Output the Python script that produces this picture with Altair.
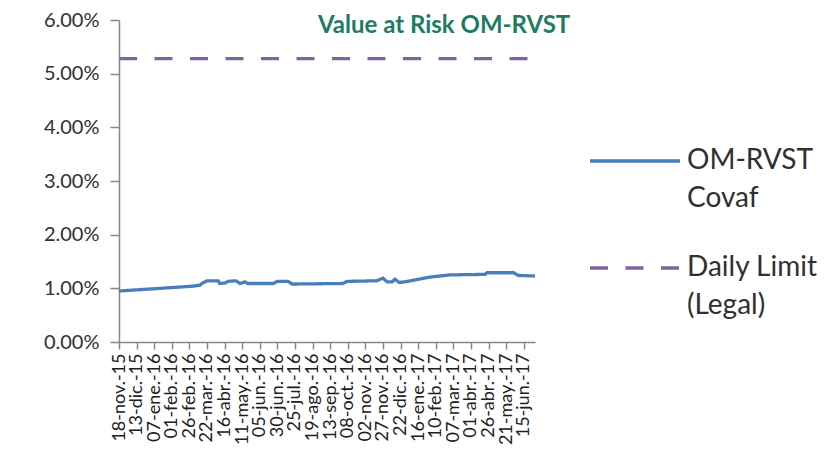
import altair as alt
import pandas as pd

# ---- data ----
var_dates = [
    "2015-11-18", "2016-03-02", "2016-03-12", "2016-03-16", "2016-03-22",
    "2016-04-07", "2016-04-09", "2016-04-17", "2016-04-21", "2016-05-02",
    "2016-05-08", "2016-05-15", "2016-05-19", "2016-06-24", "2016-06-30",
    "2016-07-15", "2016-07-21", "2016-10-01", "2016-10-07", "2016-11-18",
    "2016-11-27", "2016-12-03", "2016-12-10", "2016-12-14", "2016-12-20",
    "2016-12-28", "2017-02-02", "2017-03-02", "2017-04-21", "2017-04-24",
    "2017-06-01", "2017-06-07", "2017-07-01",
]
var_values = [
    0.95, 1.04, 1.06, 1.10, 1.14,
    1.14, 1.09, 1.10, 1.13, 1.14,
    1.09, 1.12, 1.09, 1.09, 1.13,
    1.13, 1.08, 1.09, 1.13, 1.14,
    1.19, 1.12, 1.12, 1.17, 1.11,
    1.12, 1.21, 1.25, 1.26, 1.29,
    1.29, 1.24, 1.23,
]
limit_dates = ["2015-11-18", "2017-07-01"]
limit_values = [5.28, 5.28]

series_names = ["OM-RVST\nCovaf", "Daily Limit\n(Legal)"]
series_colors = ["#4a7ebb", "#8064a2"]
series_dashes = [[1, 0], [18, 17.5]]

tick_dates = [
    "2015-11-18", "2015-12-13", "2016-01-07", "2016-02-01", "2016-02-26",
    "2016-03-22", "2016-04-16", "2016-05-11", "2016-06-05", "2016-06-30",
    "2016-07-25", "2016-08-19", "2016-09-13", "2016-10-08", "2016-11-02",
    "2016-11-27", "2016-12-22", "2017-01-16", "2017-02-10", "2017-03-07",
    "2017-04-01", "2017-04-26", "2017-05-21", "2017-06-15",
]
month_abbr = ["ene", "feb", "mar", "abr", "may", "jun",
              "jul", "ago", "sep", "oct", "nov", "dic"]
y_ticks = [0, 1, 2, 3, 4, 5, 6]
title_text = "Value at Risk OM-RVST"
x_domain = ["2015-11-18", "2017-07-01"]

# ---- build table ----
df = pd.DataFrame({
    "date": var_dates + limit_dates,
    "value": [v / 100 for v in var_values + limit_values],
    "series": [series_names[0]] * len(var_dates) + [series_names[1]] * len(limit_dates),
})


def dt(s):
    y, m, d = (int(p) for p in s.split("-"))
    return alt.DateTime(year=y, month=m, date=d, utc=True)


month_list = "[" + ",".join(f"'{m}'" for m in month_abbr) + "]"
x_label_expr = (
    "utcFormat(datum.value, '%d') + '-' + " + month_list +
    "[utcmonth(datum.value)] + '.-' + utcFormat(datum.value, '%y')"
)

FONT = "Lato"

legend = alt.Legend(
    title=None,
    orient="none",
    legendX=469,
    legendY=94,
    symbolType="stroke",
    symbolSize=8100,
    symbolStrokeWidth=3.5,
    labelFont=FONT,
    labelFontSize=28,
    labelColor="#303030",
    labelOffset=5,
    labelBaseline="middle",
    labelLimit=300,
    rowPadding=8,
    labelExpr="split(datum.label, '\\n')",
)

chart = alt.Chart(df).mark_line(strokeWidth=3.3).encode(
    x=alt.X(
        "date:T",
        scale=alt.Scale(type="utc", domain=[dt(s) for s in x_domain]),
        axis=alt.Axis(
            title=None,
            values=[dt(s) for s in tick_dates],
            labelExpr=x_label_expr,
            labelAngle=-90,
            labelAlign="right",
            labelBaseline="middle",
            labelFont=FONT,
            labelFontSize=18,
            labelColor="#202020",
            labelPadding=4,
            labelOverlap=False,
            labelFlush=False,
            tickSize=7,
            grid=False,
        ),
    ),
    y=alt.Y(
        "value:Q",
        scale=alt.Scale(domain=[0, 0.06], nice=False),
        axis=alt.Axis(
            title=None,
            values=[t / 100 for t in y_ticks],
            format=".2%",
            labelFont=FONT,
            labelFontSize=20,
            labelColor="#303030",
            labelPadding=11,
            tickSize=9,
            grid=False,
        ),
    ),
    color=alt.Color(
        "series:N",
        scale=alt.Scale(domain=series_names, range=series_colors),
        legend=legend,
    ),
    strokeDash=alt.StrokeDash(
        "series:N",
        scale=alt.Scale(domain=series_names, range=series_dashes),
        legend=legend,
    ),
).properties(
    width=416,
    height=322,
    title=alt.TitleParams(
        title_text,
        anchor="start",
        frame="group",
        dx=199,
        dy=47,
        offset=0,
        baseline="alphabetic",
        font=FONT,
        fontSize=24,
        fontWeight="bold",
        color="#1f7a62",
    ),
    autosize=alt.AutoSizeParams(type="none"),
    padding={"left": 111, "top": 12, "right": 288, "bottom": 130},
).configure_view(
    stroke=None
).configure_axis(
    domainColor="#868686",
    domainWidth=1.5,
    tickColor="#868686",
    tickWidth=1.5,
)
chart.config.style = {"guide-label": {"lineHeight": 38}}

chart.save("out.html", embed_options={"renderer": "svg", "actions": False})
